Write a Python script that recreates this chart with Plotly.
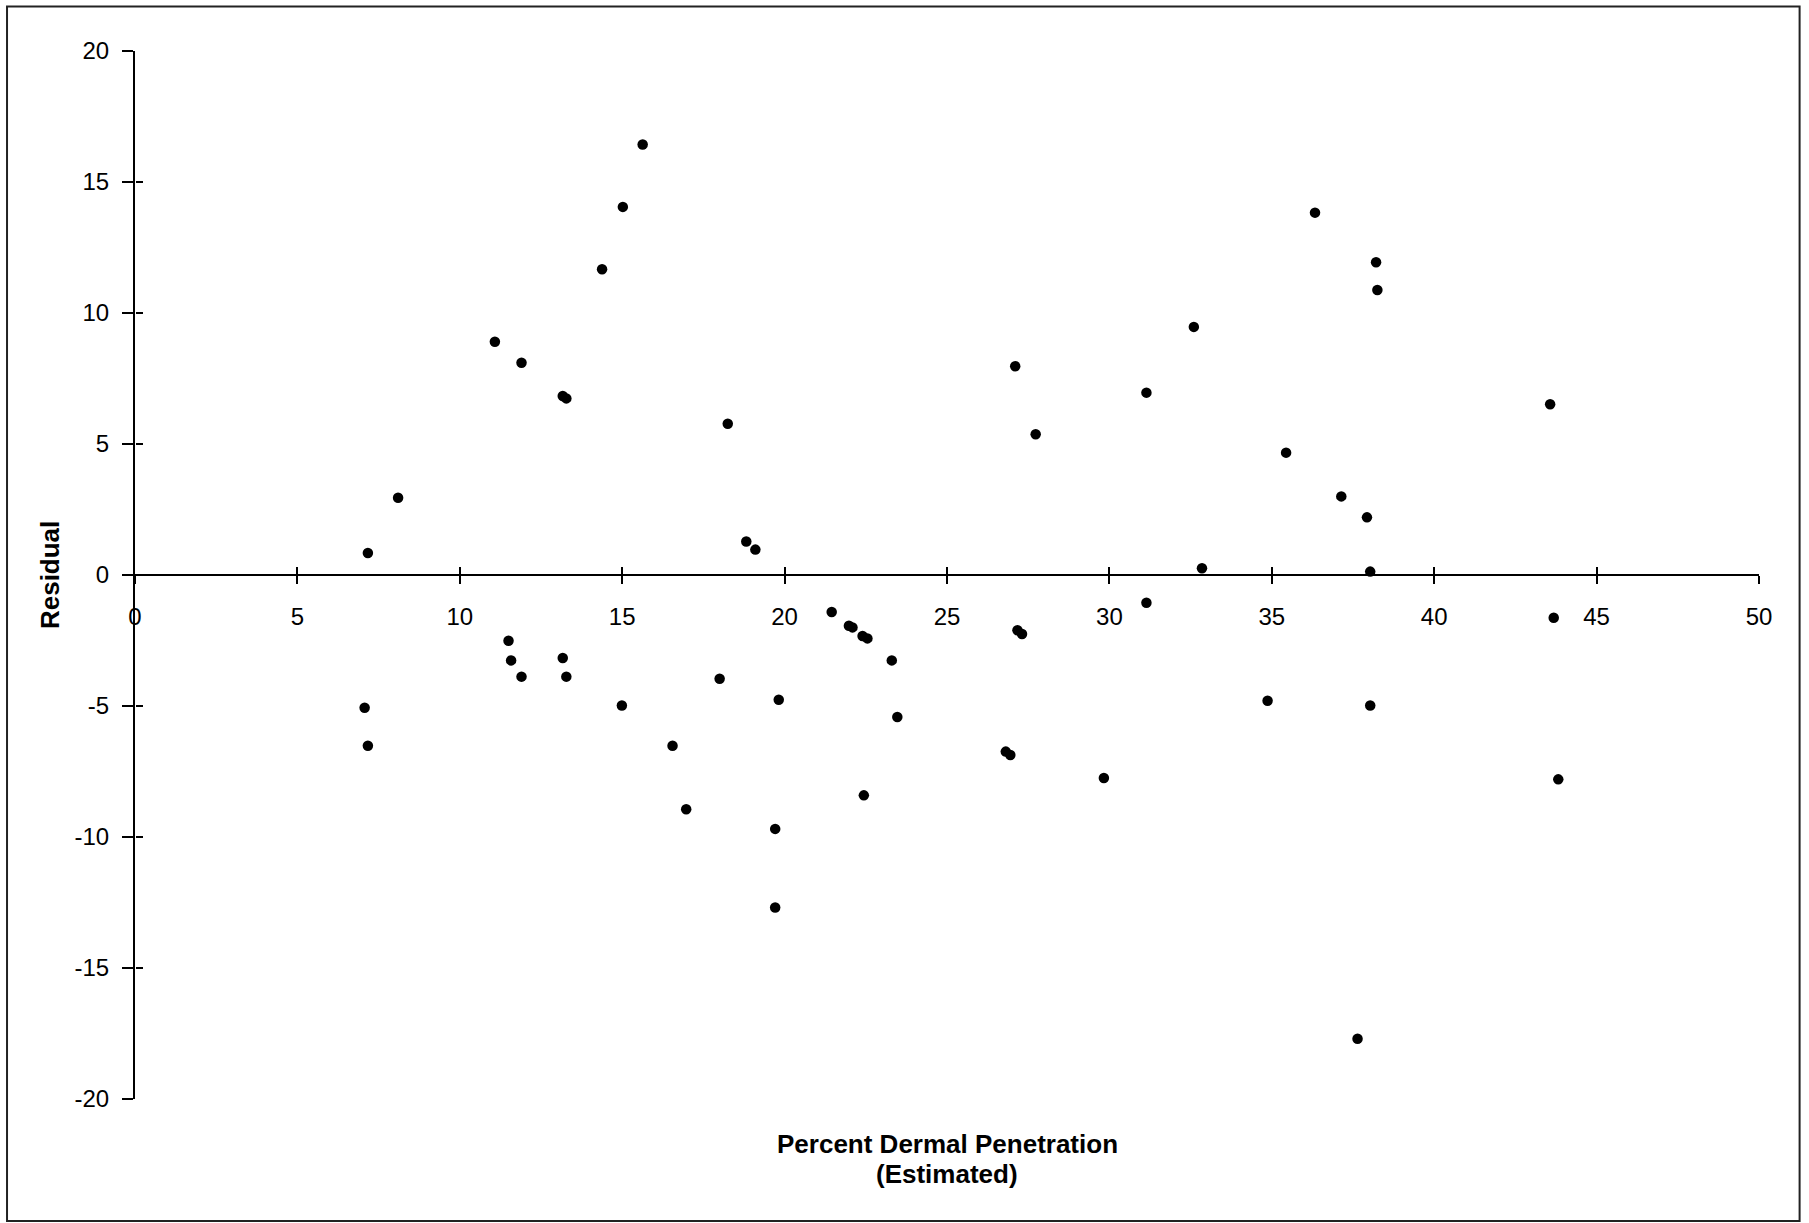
import plotly.graph_objects as go

# Estimated percent dermal penetration (x) and residual (y)
x_est = [7.17, 8.10, 11.08, 11.90, 13.17, 13.28, 14.38, 15.02, 15.63, 18.25,
         18.82, 19.10, 27.10, 27.73, 31.14, 32.60, 32.85, 35.44, 36.33, 37.14,
         37.93, 38.03, 38.21, 38.25, 43.57,
         7.07, 7.17, 11.50, 11.58, 11.90, 13.17, 13.28, 14.99, 16.55, 16.97,
         18.00, 19.82, 19.71, 19.71, 21.45, 21.98, 22.09, 22.40, 22.55, 22.44,
         23.30, 23.47, 26.81, 26.95, 27.17, 27.31, 29.83, 31.14, 34.87, 38.03,
         37.64, 43.68, 43.82]
residual = [0.84, 2.95, 8.90, 8.10, 6.83, 6.74, 11.67, 14.05, 16.43, 5.77,
            1.28, 0.97, 7.97, 5.37, 6.96, 9.47, 0.26, 4.67, 13.83, 3.00,
            2.20, 0.13, 11.94, 10.88, 6.52,
            -5.07, -6.52, -2.51, -3.26, -3.88, -3.17, -3.88, -4.98, -6.52, -8.94,
            -3.96, -4.76, -9.69, -12.69, -1.41, -1.94, -2.00, -2.33, -2.42, -8.41,
            -3.26, -5.42, -6.74, -6.87, -2.11, -2.25, -7.75, -1.06, -4.80, -4.98,
            -17.70, -1.63, -7.80]

x_ticks = [0, 5, 10, 15, 20, 25, 30, 35, 40, 45, 50]
x_tick_labels = ["0", "5", "10", "15", "20", "25", "30", "35", "40", "45", "50"]
y_ticks = [-20, -15, -10, -5, 0, 5, 10, 15, 20]
y_tick_labels = ["-20", "-15", "-10", "-5", "0", "5", "10", "15", "20"]

FONT = "Liberation Sans, Arial, sans-serif"

fig = go.Figure()
fig.add_trace(go.Scatter(
    x=x_est, y=residual, mode="markers",
    marker=dict(color="black", size=10.5),
    showlegend=False, hoverinfo="x+y"))
# invisible companion trace so the crossing-tick overlay axes are drawn
fig.add_trace(go.Scatter(
    x=x_est, y=residual, mode="markers", xaxis="x2", yaxis="y2",
    marker=dict(color="rgba(0,0,0,0)", size=1),
    showlegend=False, hoverinfo="skip"))

common_tick = dict(tickfont=dict(family=FONT, size=24, color="black"),
                   showgrid=False, zeroline=False, tickcolor="black", tickwidth=2)

fig.update_layout(
    width=1809, height=1223,
    margin=dict(l=135, r=50, t=51, b=124),
    paper_bgcolor="white", plot_bgcolor="white",
    xaxis=dict(range=[0, 50], tickvals=x_ticks, ticktext=x_tick_labels,
               ticks="outside", ticklen=8,
               showline=True, linecolor="black", linewidth=2,
               anchor="free", position=0.5, ticklabelstandoff=12,
               **common_tick),
    xaxis2=dict(range=[0, 50], tickvals=x_ticks, ticks="inside", ticklen=8,
                overlaying="x", anchor="free", position=0.5,
                showticklabels=False, showline=False, **common_tick),
    yaxis=dict(range=[-20, 20], tickvals=y_ticks, ticktext=y_tick_labels,
               ticks="outside", ticklen=11,
               showline=True, linecolor="black", linewidth=2,
               ticklabelstandoff=8, **common_tick),
    yaxis2=dict(range=[-20, 20], tickvals=y_ticks, ticks="inside", ticklen=7,
                overlaying="y", anchor="free", position=0, side="left",
                showticklabels=False, showline=False, **common_tick),
    shapes=[dict(type="rect", xref="paper", yref="paper",
                 x0=-0.0788, x1=1.025, y0=-0.1165, y1=1.0425,
                 line=dict(color="#222222", width=2), layer="below")],
    annotations=[
        dict(text="<b>Percent Dermal Penetration</b>", xref="paper", yref="paper",
             x=0.5, y=-0.0425, xanchor="center", yanchor="middle", showarrow=False,
             font=dict(family=FONT, size=26, color="black")),
        dict(text="<b>(Estimated)</b>", xref="paper", yref="paper",
             x=0.5, y=-0.0715, xanchor="center", yanchor="middle", showarrow=False,
             font=dict(family=FONT, size=26, color="black")),
        dict(text="<b>Residual</b>", xref="paper", yref="paper",
             x=-0.0523, y=0.5, xanchor="center", yanchor="middle", showarrow=False,
             textangle=-90, font=dict(family=FONT, size=26, color="black")),
    ],
)

fig.write_html("out.html")
